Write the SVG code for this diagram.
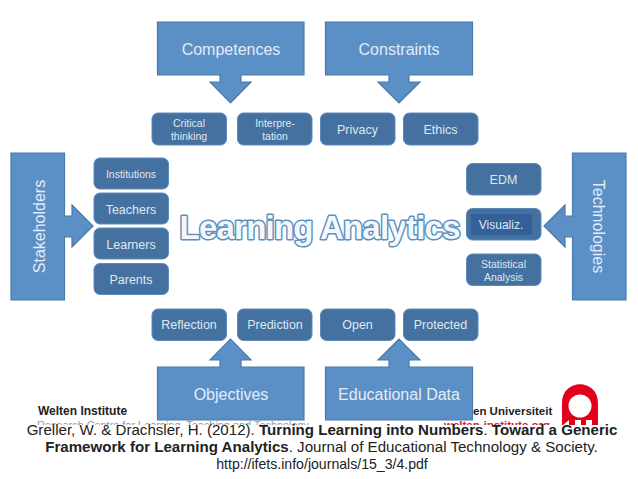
<svg xmlns="http://www.w3.org/2000/svg" width="638" height="479" viewBox="0 0 638 479">
<style>
.big{fill:#5b90c7;stroke:#4a7aa8;stroke-width:1.2}
.small{fill:#44719f;stroke:#5a8abb;stroke-width:1}
text{font-family:"Liberation Sans",Arial,sans-serif}
.t1{fill:#e3ecf5;font-size:16px;text-anchor:middle}
.t2{fill:#dfe8f2;font-size:12.5px;text-anchor:middle}
.t3{fill:#dfe8f2;font-size:10.500px;text-anchor:middle}
.cap{fill:#222;font-size:15.100px;text-anchor:middle}
</style>
<rect width="638" height="479" fill="#fff"/>
<g id="logo">
<text x="38" y="415" font-size="12" font-weight="bold" fill="#222">Welten Institute</text>
<text x="37" y="429" font-size="10.900" fill="#999">Research Centre for Learning, Teaching and Technology</text>
<text x="473" y="415" font-size="11.500" font-weight="bold" fill="#222">en Universiteit</text>
<text x="444" y="429" font-size="11.500" font-weight="bold" fill="#d02035">welten-institute.org</text>
<path d="M562 426V403C562 378 598 378 598 403V426H592V420H586V426H581V420H575V426H569V420Z" fill="#e2001a"/>
<circle cx="580" cy="406" r="11.500" fill="#fff"/>
</g>
<rect x="0" y="425" width="638" height="54" fill="#fff"/>
<g id="competences"><path class="big" d="M157.500 22H304V75H241V82H251L230.500 103L210 82H220V75H157.500Z"/><text class="t1" x="231" y="55">Competences</text></g>
<g id="constraints"><path class="big" d="M325.500 22H472.500V75H409V82H420L399 103L378 82H389V75H325.500Z"/><text class="t1" x="399" y="55">Constraints</text></g>
<g id="stakeholders"><path class="big" d="M11 153H64.500V216H72V205L93 226L72 247V237H64.500V300H11Z"/><text class="t1" transform="translate(45 226.500) rotate(-90)">Stakeholders</text></g>
<g id="technologies"><path class="big" d="M626 153H572.500V216H565V205L544 226L565 247V237H572.500V300H626Z"/><text class="t1" transform="translate(593 226.500) rotate(90)">Technologies</text></g>
<g id="objectives"><path class="big" d="M157.500 420H304V367H241V360H251L230.500 339L210 360H220V367H157.500Z"/><text class="t1" x="231" y="400">Objectives</text></g>
<g id="educational-data"><path class="big" d="M325.500 420H472.500V367H409V360H420L399 339L378 360H389V367H325.500Z"/><text class="t1" x="399" y="400">Educational Data</text></g>
<g id="critical"><rect class="small" x="152" y="113" width="74.500" height="32" rx="6"/><text class="t3" x="189" y="127">Critical</text><text class="t3" x="189" y="140">thinking</text></g>
<g id="interpretation"><rect class="small" x="237.500" y="113" width="74.500" height="32" rx="6"/><text class="t3" x="275" y="127">Interpre-</text><text class="t3" x="275" y="140">tation</text></g>
<g id="privacy"><rect class="small" x="320.500" y="113" width="74.500" height="32" rx="6"/><text class="t2" x="357.500" y="134">Privacy</text></g>
<g id="ethics"><rect class="small" x="403.500" y="113" width="74.500" height="32" rx="6"/><text class="t2" x="440.500" y="134">Ethics</text></g>
<g id="institutions"><rect class="small" x="94" y="158" width="74.500" height="31" rx="6"/><text class="t3" x="131" y="178">Institutions</text></g>
<g id="teachers"><rect class="small" x="94" y="193" width="74.500" height="31" rx="6"/><text class="t2" x="131" y="214">Teachers</text></g>
<g id="learners"><rect class="small" x="94" y="228" width="74.500" height="31" rx="6"/><text class="t2" x="131" y="249">Learners</text></g>
<g id="parents"><rect class="small" x="94" y="263.500" width="74.500" height="31" rx="6"/><text class="t2" x="131" y="284">Parents</text></g>
<g id="edm"><rect class="small" x="466.500" y="163.500" width="74.500" height="31.500" rx="6"/><text class="t2" x="503.500" y="184">EDM</text></g>
<g id="visualiz"><rect class="small" x="466.500" y="208.500" width="74.500" height="31.500" rx="6"/><rect x="471" y="214" width="61" height="21" fill="#34609a"/><text class="t3" x="501" y="229" style="font-size:12px">Visualiz.</text></g>
<g id="statistical"><rect class="small" x="466.500" y="254" width="74.500" height="31.500" rx="6"/><text class="t3" x="503.500" y="268">Statistical</text><text class="t3" x="503.500" y="281">Analysis</text></g>
<g id="reflection"><rect class="small" x="152" y="309" width="74.500" height="31.500" rx="6"/><text class="t2" x="189" y="329">Reflection</text></g>
<g id="prediction"><rect class="small" x="237.500" y="309" width="74.500" height="31.500" rx="6"/><text class="t2" x="275" y="329">Prediction</text></g>
<g id="open"><rect class="small" x="320.500" y="309" width="74.500" height="31.500" rx="6"/><text class="t2" x="357.500" y="329">Open</text></g>
<g id="protected"><rect class="small" x="403.500" y="309" width="74.500" height="31.500" rx="6"/><text class="t2" x="440.500" y="329">Protected</text></g>
<g id="title"><text x="320" y="239" text-anchor="middle" font-size="33" font-weight="bold" fill="#f4f8fc" stroke="#5b90bf" stroke-width="3" stroke-linejoin="round" paint-order="stroke" textLength="281" lengthAdjust="spacing">Learning Analytics</text></g>
<g id="caption">
<text class="cap" x="322" y="435">Greller, W. &amp; Drachsler, H. (2012). <tspan font-weight="bold">Turning Learning into Numbers</tspan>. <tspan font-weight="bold">Toward a Generic</tspan></text>
<text class="cap" x="321.500" y="452"><tspan font-weight="bold">Framework for Learning Analytics</tspan>. Journal of Educational Technology &amp; Society.</text>
<text x="322" y="469" text-anchor="middle" font-size="14.100" fill="#222">http://ifets.info/journals/15_3/4.pdf</text>
</g>
<g id="connectors"/>
</svg>
